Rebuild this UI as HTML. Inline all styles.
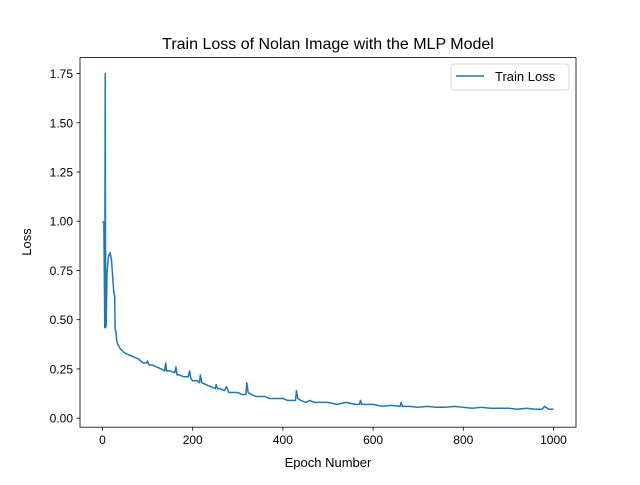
<!DOCTYPE html>
<html><head><meta charset="utf-8"><style>
body{margin:0;background:#fff}
svg text{font-family:"Liberation Sans","DejaVu Sans",sans-serif;fill:#000}
</style></head><body>
<svg id="c" width="640" height="480" xmlns="http://www.w3.org/2000/svg">
<rect width="640" height="480" fill="#fff"/>
<text x="328" y="49" font-size="16" text-anchor="middle">Train Loss of Nolan Image with the MLP Model</text>
<g id="plot"></g>
<rect x="80" y="57.6" width="496" height="369.6" fill="none" stroke="#000" stroke-width="0.8"/>
<text x="328" y="467" font-size="13" text-anchor="middle">Epoch Number</text>
<text x="31" y="242" font-size="13" text-anchor="middle" transform="rotate(-90 31 242)">Loss</text>
<g>
<rect x="451" y="64" width="118" height="26" rx="3" fill="#fff" stroke="#ccc" stroke-width="0.8"/>
<line x1="456" y1="76" x2="484" y2="76" stroke="#1f77b4" stroke-width="1.5"/>
<text x="495" y="81" font-size="13">Train Loss</text>
</g>
</svg>
<script>
const epochs=[0,3,5,6,7,8,10,13,17,20,23,25,27,28,30,31,33,35,40,50,60,70,80,90,98,100,103,110,120,130,138,140,142,150,160,163,165,170,180,190,193,196,200,210,215,217,220,230,240,250,252,255,260,270,275,280,290,300,310,318,320,323,330,340,350,360,370,380,390,400,410,420,428,430,433,440,450,460,470,480,490,500,520,540,560,570,572,575,600,620,640,660,662,665,680,700,720,740,760,780,800,820,840,860,880,900,920,940,960,975,980,990,1000];
const losses=[1.00,0.99,0.46,1.75,0.46,0.47,0.74,0.82,0.84,0.80,0.70,0.64,0.62,0.45,0.44,0.40,0.38,0.37,0.35,0.33,0.32,0.31,0.30,0.28,0.28,0.29,0.27,0.27,0.26,0.25,0.24,0.28,0.24,0.24,0.23,0.26,0.22,0.22,0.21,0.21,0.24,0.20,0.19,0.19,0.18,0.22,0.18,0.17,0.16,0.15,0.17,0.15,0.15,0.14,0.16,0.13,0.13,0.13,0.12,0.12,0.18,0.13,0.12,0.11,0.11,0.11,0.10,0.10,0.10,0.10,0.09,0.09,0.09,0.14,0.10,0.09,0.08,0.09,0.08,0.08,0.08,0.08,0.07,0.08,0.07,0.07,0.09,0.07,0.07,0.06,0.065,0.06,0.08,0.06,0.06,0.055,0.06,0.055,0.055,0.06,0.055,0.05,0.055,0.05,0.05,0.05,0.045,0.05,0.045,0.045,0.06,0.045,0.045];
const xTicks=[0,200,400,600,800,1000];
const yTicks=[0,0.25,0.5,0.75,1.0,1.25,1.5,1.75];
const X0=80,X1=576,Y0=427.2,Y1=57.6,xmin=-49.95,xmax=1049.95,ymin=-0.046,ymax=1.831;
const sx=v=>X0+(v-xmin)/(xmax-xmin)*(X1-X0);
const sy=v=>Y0-(v-ymin)/(ymax-ymin)*(Y0-Y1);
const NS="http://www.w3.org/2000/svg",g=document.getElementById('plot');
function mk(t,a){const e=document.createElementNS(NS,t);for(const k in a)e.setAttribute(k,a[k]);g.appendChild(e);return e;}
xTicks.forEach(v=>{
 const l=mk('line',{x1:sx(v),x2:sx(v),y1:Y0,y2:Y0+3.5,stroke:'#000','stroke-width':0.8});
 
 
 const t=mk('text',{x:sx(v),y:Y0+17,'font-size':12,'text-anchor':'middle'});t.textContent=v;
 
 
});
yTicks.forEach(v=>{
 const l=mk('line',{x1:X0-3.5,x2:X0,y1:sy(v),y2:sy(v),stroke:'#000','stroke-width':0.8});
 
 
 const t=mk('text',{x:X0-7,y:sy(v)+4.5,'font-size':12,'text-anchor':'end'});t.textContent=v.toFixed(2);
 
 
});
const p=mk('polyline',{points:epochs.map((e,i)=>sx(e)+','+sy(losses[i])).join(' '),fill:'none',stroke:'#1f77b4','stroke-width':1.5,'stroke-linejoin':'round'});


</script>
</body></html>
